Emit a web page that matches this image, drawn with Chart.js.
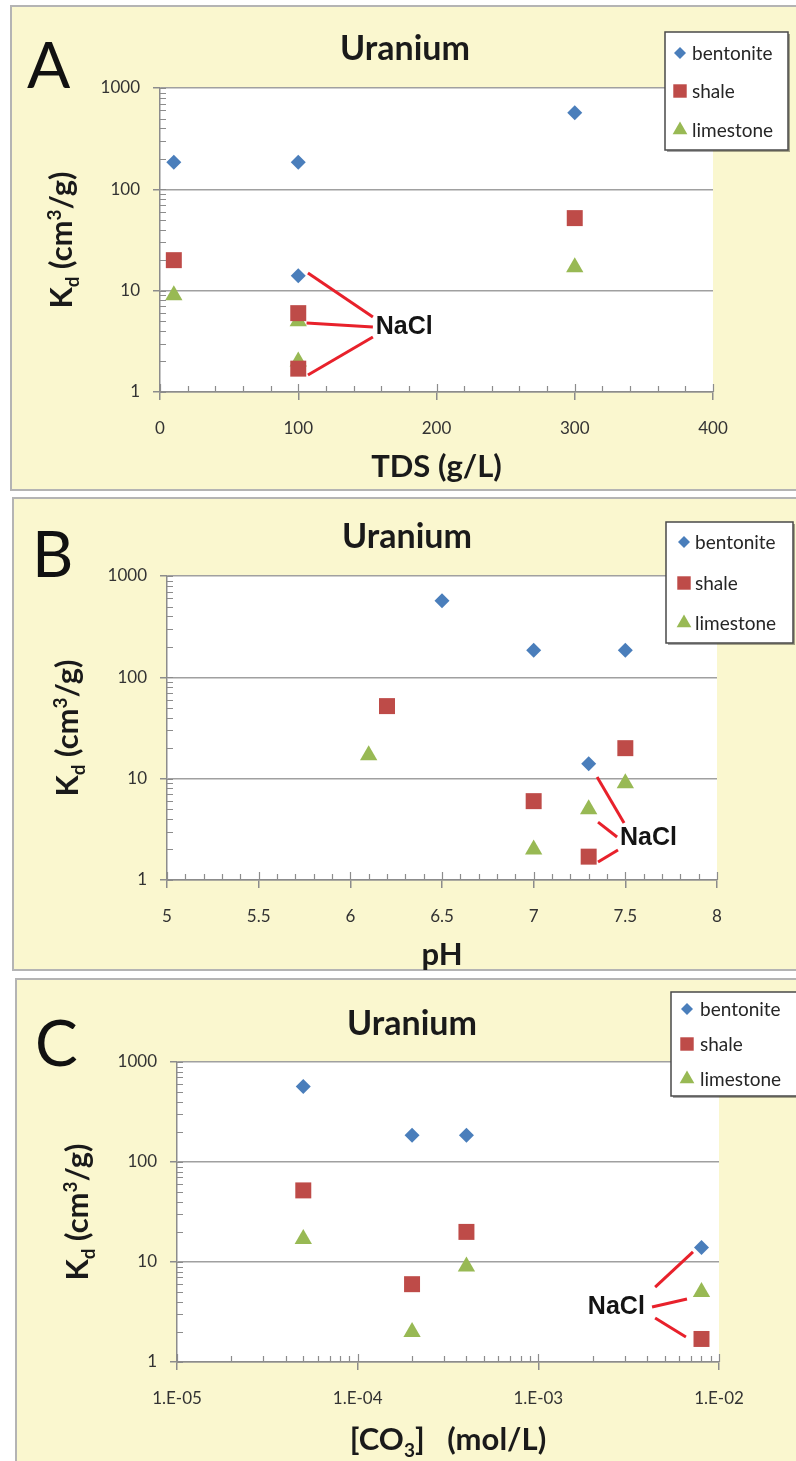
<!DOCTYPE html>
<html>
<head>
<meta charset="utf-8">
<title>Uranium Kd</title>
<script src="https://cdn.jsdelivr.net/npm/chart.js@4.4.1/dist/chart.umd.min.js"></script>
<style>
  html, body { margin: 0; padding: 0; background: #ffffff; }
  body { width: 796px; height: 1461px; position: relative; overflow: hidden; }
  .panel { position: absolute; background: #faf7cf; border: 2px solid #b4b4b4; border-right: none; box-sizing: border-box; }
  canvas { position: absolute; }
</style>
</head>
<body>
<div class="panel" style="left:10px;top:5px;width:786px;height:486px"></div>
<canvas id="cA" width="786" height="486" style="left:10px;top:5px"></canvas>
<div class="panel" style="left:12px;top:497px;width:784px;height:474px"></div>
<canvas id="cB" width="784" height="474" style="left:12px;top:497px"></canvas>
<div class="panel" style="left:15px;top:978px;width:781px;height:500px"></div>
<canvas id="cC" width="781" height="500" style="left:15px;top:978px"></canvas>

<script>
// ---- series ----
const seriesNames = ['bentonite', 'shale', 'limestone'];

// samples: low-salinity water, 100 g/L brine, 300 g/L brine, NaCl solution
const kdBentonite = [185, 185, 570, 14];
const kdShale     = [20, 6, 52, 1.7];
const kdLimestone = [9, 2, 17, 5];

// total dissolved solids, g/L
const tds = [10, 100, 300, 100];
// pH measured with each rock
const phBentonite = [7.5, 7.0, 6.5, 7.3];
const phShale     = [7.5, 7.0, 6.2, 7.3];
const phLimestone = [7.5, 7.0, 6.1, 7.3];
// carbonate concentration, mol/L
const co3 = [4e-4, 2e-4, 5e-5, 8e-3];

// ---- axis ticks ----
const kdTicks = [1, 10, 100, 1000];
const kdTickLabels = ['1', '10', '100', '1000'];
const tdsTicks = [0, 100, 200, 300, 400];
const tdsTickLabels = ['0', '100', '200', '300', '400'];
const phTicks = [5, 5.5, 6, 6.5, 7, 7.5, 8];
const phTickLabels = ['5', '5.5', '6', '6.5', '7', '7.5', '8'];
const co3Ticks = [1e-5, 1e-4, 1e-3, 1e-2];
const co3TickLabels = ['1.E-05', '1.E-04', '1.E-03', '1.E-02'];

// ---- NaCl call-outs (data coordinates) ----
const naclA = { at: [156, 4.4], leaders: [[[107, 14.9], [154, 5.5]], [[106, 4.8], [154, 4.38]], [[107, 1.47], [154, 3.49]]] };
const naclB = { at: [7.471, 2.6], leaders: [[[7.346, 10.4], [7.493, 3.65]], [[7.351, 3.73], [7.455, 2.66]], [[7.351, 1.505], [7.46, 1.98]]] };
const naclC = { at: [1.88e-3, 3.55], leaders: [[[4.43e-3, 5.62], [7.18e-3, 12.6]], [[4.26e-3, 3.55], [6.65e-3, 4.27]], [[4.43e-3, 2.75], [6.56e-3, 1.78]]] };

// ---- styling ----
const colors = ['#4a7ebb', '#be4b48', '#98b954'];
const styles = ['rectRot', 'rect', 'triangle'];
const radii = [7.5, 11.3, 10];
const legendRadii = [6, 9.5, 8.5];
const AXIS = '#8c8c8c', GRID = '#a0a0a0', TICKTXT = '#333333';
const SANS = 'Lato';

function logSteps(lo, hi) {
  const out = [];
  const e0 = Math.round(Math.log10(lo)), e1 = Math.round(Math.log10(hi));
  for (let e = e0; e < e1; e++) for (let m = 1; m < 10; m++) out.push(m * Math.pow(10, e));
  out.push(Math.pow(10, e1));
  return out;
}
function linSteps(lo, hi, step) {
  const out = [], n = Math.round((hi - lo) / step);
  for (let i = 0; i <= n; i++) out.push(+(lo + i * step).toFixed(6));
  return out;
}
function findTick(values, v) {
  for (let i = 0; i < values.length; i++) {
    if (Math.abs(values[i] - v) <= Math.abs(values[i]) * 1e-6 + 1e-12) return i;
  }
  return -1;
}

// draws a run list like [{t:'K'},{t:'d',sub:true}] centred on 0 along the x axis
function richText(ctx, runs, size, weight) {
  const small = Math.round(size * 0.62);
  const fontFor = r => `${weight} ${(r.sub || r.sup) ? small : size}px ${SANS}`;
  let total = 0;
  runs.forEach(r => { ctx.font = fontFor(r); total += ctx.measureText(r.t).width; });
  let x = -total / 2;
  ctx.textAlign = 'left';
  ctx.textBaseline = 'alphabetic';
  runs.forEach(r => {
    ctx.font = fontFor(r);
    const dy = r.sub ? size * 0.22 : (r.sup ? -size * 0.36 : 0);
    ctx.fillText(r.t, x, dy);
    x += ctx.measureText(r.t).width;
  });
}

const kdTitle = [{ t: 'K' }, { t: 'd', sub: true }, { t: ' (cm' }, { t: '3', sup: true }, { t: '/g)' }];

const panels = [
  {
    id: 'cA', letter: 'A', letterAt: [17, 83], titleAt: [395, 55], yTitleX: 62, xTitleY: 472,
    plot: { left: 150, top: 83, right: 703, bottom: 387 },
    x: { type: 'linear', min: 0, max: 400, steps: linSteps(0, 400, 20), ticks: tdsTicks, labels: tdsTickLabels },
    xs: [tds, tds, tds],
    xTitle: [{ t: 'TDS (g/L)' }],
    legend: { x: 655, y: 27, w: 123, h: 118, mx: 670, tx: 682, rows: [48, 86, 125] },
    nacl: naclA
  },
  {
    id: 'cB', letter: 'B', letterAt: [20, 80], titleAt: [395, 51], yTitleX: 66, xTitleY: 468,
    plot: { left: 155, top: 79, right: 705, bottom: 383 },
    x: { type: 'linear', min: 5, max: 8, steps: linSteps(5, 8, 0.1), ticks: phTicks, labels: phTickLabels },
    xs: [phBentonite, phShale, phLimestone],
    xTitle: [{ t: 'pH' }],
    legend: { x: 654, y: 25, w: 127, h: 121, mx: 672, tx: 683, rows: [45, 86, 126] },
    nacl: naclB
  },
  {
    id: 'cC', letter: 'C', letterAt: [20, 88], titleAt: [397, 57], yTitleX: 73, xTitleY: 472,
    plot: { left: 162, top: 84, right: 704, bottom: 384 },
    x: { type: 'logarithmic', min: 1e-5, max: 1e-2, steps: logSteps(1e-5, 1e-2), ticks: co3Ticks, labels: co3TickLabels },
    xs: [co3, co3, co3],
    xTitle: [{ t: '[CO' }, { t: '3', sub: true }, { t: ']   (mol/L)' }],
    legend: { x: 656, y: 14, w: 130, h: 104, mx: 672, tx: 685, rows: [31, 66, 101] },
    nacl: naclC
  }
];

const kdSeries = [kdBentonite, kdShale, kdLimestone];
const kdSteps = logSteps(1, 1000);

function makePanel(p) {
  const cv = document.getElementById(p.id);
  const W = cv.width, H = cv.height;
  const pl = p.plot;

  const decor = {
    id: 'decor',
    beforeDraw(chart) {
      const { ctx, chartArea: a } = chart;
      ctx.save();
      ctx.fillStyle = '#ffffff';
      ctx.fillRect(a.left, a.top, a.right - a.left, a.bottom - a.top);
      ctx.restore();
    },
    afterDraw(chart) {
      const { ctx, chartArea: a } = chart;
      const xs = chart.scales.x, ys = chart.scales.y;
      ctx.save();

      // short inward tick marks on both axes
      ctx.strokeStyle = AXIS;
      ctx.lineWidth = 1.2;
      ctx.beginPath();
      kdSteps.forEach(v => {
        const py = Math.round(ys.getPixelForValue(v)) + 0.5;
        ctx.moveTo(a.left, py); ctx.lineTo(a.left + 6, py);
      });
      p.x.steps.forEach(v => {
        const px = Math.round(xs.getPixelForValue(v)) + 0.5;
        const up = findTick(p.x.ticks, v) >= 0 ? 8 : 6;
        ctx.moveTo(px, a.bottom); ctx.lineTo(px, a.bottom - up);
      });
      ctx.stroke();

      // NaCl call-out
      ctx.strokeStyle = '#e8212b';
      ctx.lineWidth = 3;
      ctx.lineCap = 'butt';
      p.nacl.leaders.forEach(([s, e]) => {
        ctx.beginPath();
        ctx.moveTo(xs.getPixelForValue(s[0]), ys.getPixelForValue(s[1]));
        ctx.lineTo(xs.getPixelForValue(e[0]), ys.getPixelForValue(e[1]));
        ctx.stroke();
      });
      ctx.fillStyle = '#141414';
      ctx.font = 'bold 25px "Liberation Sans", Arial, sans-serif';
      ctx.textAlign = 'left';
      ctx.textBaseline = 'middle';
      ctx.fillText('NaCl', xs.getPixelForValue(p.nacl.at[0]), ys.getPixelForValue(p.nacl.at[1]));

      // panel letter
      ctx.fillStyle = '#111111';
      ctx.font = `normal 64px ${SANS}`;
      ctx.textBaseline = 'alphabetic';
      ctx.fillText(p.letter, p.letterAt[0], p.letterAt[1]);

      // chart title
      ctx.font = `bold 34px ${SANS}`;
      ctx.textAlign = 'center';
      ctx.fillStyle = '#1a1a1a';
      ctx.fillText('Uranium', p.titleAt[0], p.titleAt[1]);

      // axis titles
      ctx.fillStyle = '#1a1a1a';
      ctx.save();
      ctx.translate(p.yTitleX, (a.top + a.bottom) / 2);
      ctx.rotate(-Math.PI / 2);
      richText(ctx, kdTitle, 31, 'bold');
      ctx.restore();
      ctx.save();
      ctx.translate((a.left + a.right) / 2, p.xTitleY);
      richText(ctx, p.xTitle, 31, 'bold');
      ctx.restore();

      // legend box
      const L = p.legend;
      ctx.fillStyle = 'rgba(0,0,0,0.35)';
      ctx.fillRect(L.x + 2, L.y + 2, L.w, L.h);
      ctx.fillStyle = '#ffffff';
      ctx.fillRect(L.x, L.y, L.w, L.h);
      ctx.strokeStyle = '#4a4a4a';
      ctx.lineWidth = 1.5;
      ctx.strokeRect(L.x, L.y, L.w, L.h);
      chart.data.datasets.forEach((ds, i) => {
        ctx.fillStyle = ds.backgroundColor;
        Chart.helpers.drawPoint(ctx, { pointStyle: ds.pointStyle, rotation: 0, radius: legendRadii[i], borderWidth: 0 }, L.mx, L.rows[i]);
        ctx.fillStyle = '#262626';
        ctx.font = `normal 19px ${SANS}`;
        ctx.textAlign = 'left';
        ctx.textBaseline = 'middle';
        ctx.fillText(ds.label, L.tx, L.rows[i] + 1);
      });
      ctx.restore();
    }
  };

  const tickFont = { family: SANS, size: 17 };

  return new Chart(cv, {
    type: 'scatter',
    data: {
      datasets: seriesNames.map((name, i) => ({
        label: name,
        data: p.xs[i].map((xv, j) => ({ x: xv, y: kdSeries[i][j] })),
        pointStyle: styles[i],
        pointRadius: radii[i],
        pointHoverRadius: radii[i],
        backgroundColor: colors[i],
        borderColor: colors[i],
        pointBorderWidth: 0
      }))
    },
    options: {
      responsive: false,
      animation: false,
      events: [],
      layout: { padding: { left: 0, top: pl.top, right: W - pl.right, bottom: 0 } },
      plugins: { legend: { display: false }, title: { display: false }, tooltip: { enabled: false } },
      scales: {
        x: {
          type: p.x.type, min: p.x.min, max: p.x.max, position: 'bottom',
          afterBuildTicks: s => { s.ticks = p.x.steps.map(v => ({ value: v })); },
          afterFit: s => { s.height = H - pl.bottom; },
          ticks: {
            autoSkip: false, maxRotation: 0, minRotation: 0, padding: 18, color: TICKTXT, font: tickFont,
            callback: v => { const k = findTick(p.x.ticks, v); return k >= 0 ? p.x.labels[k] : ''; }
          },
          grid: {
            drawOnChartArea: false, tickLength: 8, lineWidth: 1.5,
            tickColor: c => (c.tick && findTick(p.x.ticks, c.tick.value) >= 0) ? AXIS : 'rgba(0,0,0,0)'
          },
          border: { display: true, color: AXIS, width: 1.5 }
        },
        y: {
          type: 'logarithmic', min: 1, max: 1000,
          afterBuildTicks: s => { s.ticks = kdSteps.map(v => ({ value: v })); },
          afterFit: s => { s.width = pl.left; },
          ticks: {
            autoSkip: false, padding: 13, color: TICKTXT, font: tickFont,
            callback: v => { const k = findTick(kdTicks, v); return k >= 0 ? kdTickLabels[k] : ''; }
          },
          grid: {
            drawOnChartArea: true, tickLength: 7, lineWidth: 1.5,
            color: c => (c.tick && findTick(kdTicks, c.tick.value) >= 0) ? GRID : 'rgba(0,0,0,0)',
            tickColor: c => (c.tick && findTick(kdTicks, c.tick.value) >= 0) ? AXIS : 'rgba(0,0,0,0)'
          },
          border: { display: true, color: AXIS, width: 1.5 }
        }
      }
    },
    plugins: [decor]
  });
}

panels.forEach(makePanel);
</script>
</body>
</html>
